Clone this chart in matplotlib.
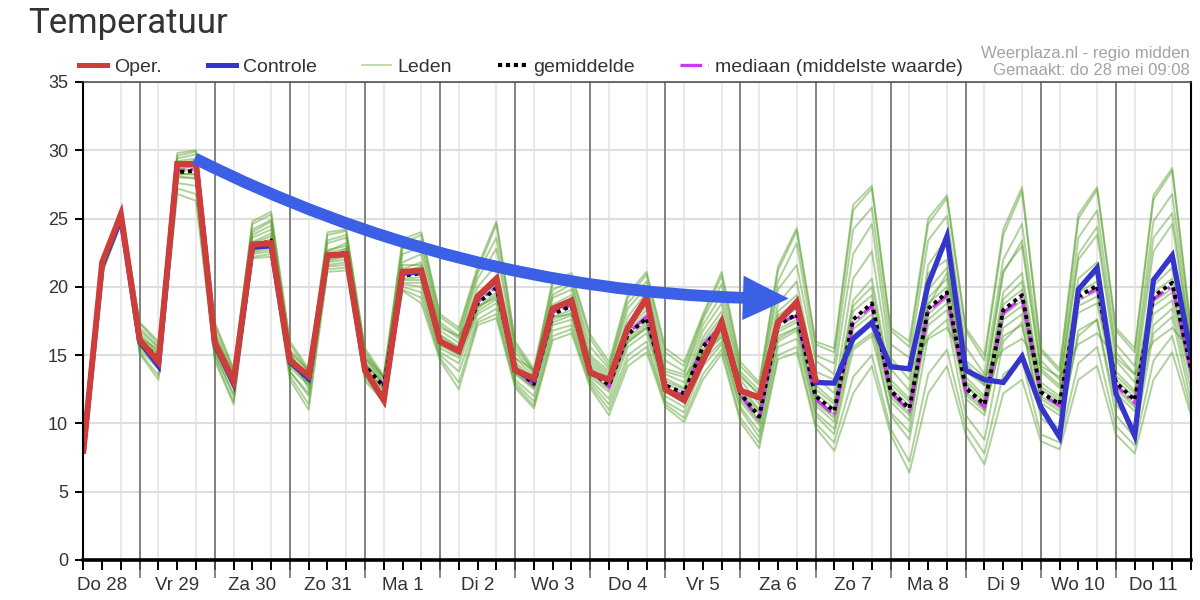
import numpy as np
import matplotlib
matplotlib.use("Agg")
import matplotlib.pyplot as plt
from matplotlib.lines import Line2D
from matplotlib.patches import FancyArrowPatch

# ---------------- data (6-hourly, first step = Do 28 06:00) ----------------
day_labels = ["Do 28", "Vr 29", "Za 30", "Zo 31", "Ma 1", "Di 2", "Wo 3", "Do 4",
              "Vr 5", "Za 6", "Zo 7", "Ma 8", "Di 9", "Wo 10", "Do 11"]

oper = [8.0, 21.8, 25.3, 16.1, 14.5, 29.0, 29.0, 15.9, 13.1, 23.1,
        23.2, 14.6, 13.5, 22.3, 22.4, 13.9, 11.7, 21.1, 21.2, 16.0,
        15.3, 19.3, 20.6, 13.9, 13.3, 18.4, 19.0, 13.7, 13.2, 17.0,
        19.2, 12.5, 11.7, 14.6, 17.4, 12.4, 11.9, 17.4, 18.9, 13.2]

controle = [8.0, 21.6, 25.0, 16.0, 14.2, 29.0, 29.0, 15.8, 12.9, 22.9,
            23.0, 14.5, 13.3, 22.3, 22.4, 13.9, 11.7, 21.0, 21.1, 16.0,
            15.3, 19.3, 20.5, 13.9, 13.2, 18.4, 19.0, 13.7, 13.2, 17.0,
            19.2, 12.5, 11.7, 14.6, 17.4, 12.4, 11.9, 17.4, 18.8, 13.0,
            12.95, 16.2, 17.4, 14.15, 14.0, 20.2, 23.7, 13.9, 13.2, 13.0,
            14.9, 11.2, 9.0, 19.8, 21.4, 12.2, 9.1, 20.5, 22.3, 15.0]

gemiddelde = [8.0, 21.5, 25.0, 16.0, 14.8, 28.4, 28.5, 15.7, 13.0, 22.9,
              23.4, 14.5, 13.2, 22.2, 22.5, 14.2, 12.7, 20.8, 21.0, 16.0,
              15.3, 18.8, 19.9, 14.0, 12.9, 18.0, 18.6, 13.9, 12.8, 16.5,
              17.7, 12.8, 12.2, 15.6, 17.1, 12.2, 10.5, 17.2, 18.0, 12.0,
              10.9, 17.6, 18.8, 12.4, 11.1, 18.4, 19.6, 12.6, 11.4, 18.3,
              19.4, 12.3, 11.4, 19.3, 20.1, 13.0, 11.7, 19.3, 20.3, 14.0]

mediaan = [8.0, 21.5, 25.1, 16.0, 14.7, 28.5, 28.6, 15.7, 13.0, 22.9,
           23.3, 14.5, 13.2, 22.3, 22.5, 14.2, 12.8, 20.9, 21.0, 16.0,
           15.3, 18.9, 20.0, 14.0, 12.8, 18.1, 18.7, 13.8, 12.7, 16.6,
           17.8, 12.7, 12.0, 15.7, 17.2, 12.1, 10.3, 17.3, 17.9, 11.8,
           10.6, 17.4, 18.6, 12.3, 10.9, 18.2, 19.4, 12.4, 11.2, 18.1,
           19.2, 12.2, 11.3, 19.1, 19.9, 12.8, 11.5, 19.1, 20.1, 13.8]

leden = [
    [8.3, 21.9, 25.8, 17.3, 15.8, 29.6, 29.9, 17.2, 13.9, 24.6,
     25.3, 15.8, 13.8, 23.8, 24.1, 15.3, 13.3, 23.2, 23.8, 17.8,
     16.8, 21.2, 24.6, 15.8, 13.8, 20.3, 20.8, 16.2, 14.2, 19.2,
     20.9, 15.2, 14.2, 17.8, 20.8, 14.2, 12.8, 21.2, 24.1, 15.8,
     15.2, 25.6, 27.2, 16.8, 15.6, 24.6, 26.5, 16.8, 14.6, 23.8,
     27.0, 15.3, 13.8, 25.0, 27.1, 16.8, 15.2, 26.4, 28.5, 16.8],
    [7.8, 21.0, 24.6, 15.1, 13.2, 26.8, 26.3, 14.6, 11.4, 22.1,
     22.2, 13.2, 11.0, 21.1, 21.2, 13.1, 11.6, 19.7, 18.8, 14.6,
     12.5, 17.2, 17.7, 12.6, 11.1, 16.1, 16.6, 12.6, 10.6, 14.2,
     15.2, 11.2, 10.1, 13.2, 15.1, 10.1, 8.2, 14.7, 15.2, 9.7,
     8.0, 12.2, 14.2, 9.2, 6.4, 12.2, 14.2, 9.2, 7.0, 12.2,
     13.2, 8.7, 8.1, 13.2, 14.2, 9.2, 7.8, 13.2, 15.2, 10.6],
    [8.1, 21.7, 25.3, 16.4, 15.1, 28.8, 29.0, 16.0, 13.3, 23.3,
     23.9, 14.9, 13.5, 22.7, 23.0, 14.5, 12.9, 21.3, 21.8, 16.5,
     15.6, 19.5, 20.8, 14.5, 13.2, 18.7, 19.4, 14.4, 13.2, 17.2,
     18.6, 13.3, 12.6, 16.3, 18.2, 12.8, 11.0, 18.2, 19.4, 12.8,
     11.6, 19.0, 20.6, 13.2, 11.8, 19.8, 21.4, 13.4, 12.0, 19.6,
     21.0, 13.0, 12.0, 20.6, 21.8, 13.8, 12.4, 20.6, 22.0, 14.8],
    [7.9, 21.3, 24.8, 15.7, 14.4, 28.0, 28.0, 15.3, 12.6, 22.6,
     23.0, 14.1, 12.8, 21.8, 22.0, 13.9, 12.4, 20.3, 20.3, 15.5,
     14.8, 18.2, 19.1, 13.6, 12.5, 17.4, 17.9, 13.4, 12.3, 15.9,
     17.0, 12.3, 11.7, 15.0, 16.3, 11.6, 9.9, 16.4, 17.0, 11.3,
     10.1, 16.5, 17.4, 11.6, 10.2, 17.2, 18.3, 11.8, 10.6, 17.0,
     18.0, 11.5, 10.6, 18.1, 18.8, 12.2, 10.9, 18.0, 19.0, 13.2],
    [8.2, 21.6, 25.5, 16.8, 15.5, 28.9, 29.3, 16.5, 13.6, 23.8,
     24.5, 15.3, 12.5, 22.0, 22.8, 14.8, 13.0, 22.4, 22.9, 17.2,
     16.2, 20.6, 22.8, 15.2, 13.6, 19.4, 20.2, 15.0, 13.8, 18.4,
     20.0, 14.0, 13.6, 17.2, 19.4, 13.6, 12.0, 19.8, 21.6, 14.6,
     13.6, 22.4, 24.6, 14.8, 13.2, 21.0, 22.0, 13.0, 11.0, 16.4,
     17.2, 10.8, 9.6, 16.4, 17.6, 11.4, 9.8, 17.2, 18.4, 12.4],
    [7.9, 21.2, 24.7, 15.4, 14.0, 27.6, 27.4, 15.0, 12.2, 22.4,
     22.6, 13.8, 12.0, 21.5, 21.6, 13.6, 12.0, 20.0, 19.6, 15.0,
     13.8, 17.6, 18.4, 13.0, 11.6, 16.8, 17.2, 13.0, 11.4, 15.0,
     16.0, 11.6, 10.8, 14.2, 15.8, 11.0, 9.0, 15.6, 16.2, 10.6,
     9.2, 15.4, 16.4, 10.8, 9.4, 18.6, 21.0, 13.8, 12.8, 21.0,
     23.4, 14.0, 12.8, 22.4, 24.4, 15.2, 13.6, 23.6, 25.4, 15.8],
    [8.0, 21.5, 25.1, 16.1, 14.9, 28.5, 28.6, 15.8, 13.1, 23.0,
     23.5, 14.6, 13.3, 22.3, 22.6, 14.3, 12.8, 20.9, 21.2, 16.2,
     15.4, 19.0, 20.1, 14.1, 13.0, 18.2, 18.8, 14.0, 12.9, 16.8,
     18.0, 12.9, 12.3, 15.8, 17.4, 12.3, 10.7, 17.6, 18.4, 12.2,
     11.1, 18.2, 19.4, 12.6, 11.3, 18.8, 20.0, 12.8, 11.6, 18.7,
     19.8, 12.5, 11.6, 19.6, 20.4, 13.2, 11.9, 19.6, 20.6, 14.2],
    [8.0, 21.4, 24.9, 15.9, 14.7, 28.2, 28.3, 15.6, 12.9, 22.8,
     23.2, 14.4, 13.0, 22.0, 22.3, 14.1, 12.5, 20.6, 20.7, 15.8,
     15.1, 18.5, 19.6, 13.8, 12.7, 17.8, 18.3, 13.7, 12.6, 16.3,
     17.4, 12.6, 12.0, 15.4, 16.8, 12.0, 10.2, 16.9, 17.6, 11.7,
     10.6, 17.2, 18.4, 12.1, 10.8, 18.0, 19.2, 12.3, 11.1, 17.9,
     19.0, 12.0, 11.1, 19.0, 19.7, 12.7, 11.4, 18.9, 19.9, 13.7],
    [8.1, 21.8, 25.6, 16.6, 15.2, 29.2, 29.4, 16.2, 13.4, 24.0,
     24.8, 15.0, 13.6, 23.2, 23.6, 14.8, 13.2, 21.8, 22.4, 16.8,
     15.9, 20.0, 21.6, 14.8, 13.4, 19.2, 19.8, 14.6, 13.4, 17.8,
     19.6, 13.6, 13.0, 16.8, 18.8, 13.2, 11.4, 18.8, 20.4, 13.4,
     12.2, 20.6, 22.6, 14.0, 12.4, 21.6, 23.6, 14.4, 12.8, 21.2,
     23.0, 13.8, 12.6, 22.0, 23.8, 14.6, 13.0, 22.6, 24.6, 15.6],
    [7.9, 21.3, 24.9, 15.6, 14.2, 28.1, 27.9, 15.2, 12.0, 22.5,
     22.8, 13.8, 12.2, 21.6, 21.8, 13.8, 12.2, 20.2, 20.0, 15.2,
     14.4, 18.0, 18.8, 13.2, 12.0, 17.2, 17.6, 13.2, 11.8, 15.6,
     16.6, 12.0, 11.2, 14.6, 16.0, 11.2, 9.4, 16.0, 16.8, 10.8,
     9.6, 16.0, 17.2, 10.6, 8.8, 16.4, 17.6, 10.6, 8.8, 16.0,
     17.4, 10.4, 9.4, 16.8, 17.6, 10.6, 9.0, 16.6, 17.8, 11.6],
    [8.2, 21.7, 25.4, 17.0, 15.6, 29.4, 29.7, 16.8, 13.7, 24.2,
     24.9, 15.4, 13.8, 23.4, 23.8, 15.1, 13.4, 22.8, 23.4, 17.4,
     16.4, 21.0, 23.6, 15.5, 13.8, 19.8, 20.4, 15.6, 14.0, 18.8,
     20.4, 14.6, 13.8, 17.6, 20.2, 13.8, 12.4, 20.4, 23.2, 15.0,
     14.4, 24.2, 25.8, 15.8, 14.8, 23.4, 25.2, 15.6, 13.6, 22.0,
     24.6, 14.6, 13.2, 23.6, 25.6, 15.8, 14.2, 24.8, 26.8, 16.2],
    [7.8, 21.1, 24.7, 15.2, 13.5, 27.2, 26.8, 14.8, 11.6, 22.2,
     22.4, 13.5, 11.4, 21.3, 21.4, 13.3, 11.8, 19.8, 19.2, 14.8,
     13.0, 17.4, 18.0, 12.8, 11.3, 16.4, 16.9, 12.8, 11.0, 14.6,
     15.6, 11.4, 10.4, 13.6, 15.4, 10.4, 8.6, 15.0, 15.6, 10.0,
     8.6, 13.4, 15.0, 9.6, 7.2, 13.6, 15.4, 9.8, 7.8, 13.6,
     14.6, 9.2, 8.6, 14.4, 15.6, 9.8, 8.4, 14.6, 16.4, 11.0],
    [8.0, 21.6, 25.2, 16.2, 15.0, 28.7, 28.8, 15.9, 13.2, 23.2,
     23.7, 14.7, 13.4, 22.5, 22.8, 14.4, 12.9, 21.1, 21.5, 16.4,
     15.5, 19.2, 20.4, 14.3, 13.1, 18.4, 19.1, 14.2, 13.0, 17.0,
     18.3, 13.1, 12.5, 16.0, 17.8, 12.5, 10.9, 17.9, 18.9, 12.5,
     11.4, 18.6, 20.0, 12.9, 11.6, 19.2, 20.6, 13.1, 11.8, 19.1,
     20.4, 12.7, 11.8, 20.0, 21.0, 13.5, 12.2, 20.1, 21.4, 14.5],
    [8.0, 21.4, 24.9, 15.8, 14.6, 28.3, 28.2, 15.5, 12.8, 22.7,
     23.1, 14.3, 12.9, 21.9, 22.2, 14.0, 12.6, 20.5, 20.5, 15.7,
     15.0, 18.4, 19.4, 13.7, 12.6, 17.6, 18.1, 13.6, 12.5, 16.1,
     17.2, 12.5, 11.9, 15.2, 16.6, 11.8, 10.1, 16.7, 17.4, 11.5,
     10.4, 16.9, 18.0, 11.9, 10.6, 17.6, 18.8, 12.1, 10.9, 17.6,
     18.6, 11.8, 10.9, 18.6, 19.3, 12.5, 11.2, 18.6, 19.6, 13.5],
    [8.1, 21.5, 25.0, 16.3, 15.4, 28.6, 28.9, 16.4, 13.5, 23.6,
     24.2, 15.2, 13.9, 22.6, 23.2, 14.9, 13.4, 21.6, 21.6, 17.0,
     16.4, 18.6, 19.2, 14.8, 13.9, 17.8, 18.0, 14.8, 13.6, 16.0,
     17.0, 13.8, 13.4, 15.2, 16.4, 13.4, 12.2, 16.2, 17.0, 13.8,
     13.2, 15.6, 16.6, 14.4, 13.8, 16.2, 17.0, 14.6, 13.4, 15.4,
     16.2, 14.2, 13.4, 15.8, 16.6, 14.8, 13.6, 16.0, 17.0, 15.4],
    [8.4, 22.0, 25.7, 17.4, 16.0, 29.8, 30.0, 17.4, 14.0, 24.8,
     25.5, 16.0, 14.0, 24.0, 24.2, 15.5, 13.5, 23.5, 24.0, 18.0,
     17.0, 21.5, 24.8, 16.0, 14.0, 20.5, 21.0, 16.5, 14.5, 19.5,
     21.1, 15.5, 14.5, 18.0, 21.1, 14.5, 13.0, 21.5, 24.3, 16.0,
     15.5, 26.0, 27.4, 17.0, 16.0, 25.0, 26.7, 17.0, 15.0, 24.2,
     27.3, 15.5, 14.0, 25.3, 27.3, 17.0, 15.5, 26.7, 28.7, 17.0],
]

# annotation arrow (data coordinates: days since Do 28 00:00, degrees)
arrow_start = (1.70, 29.5)
arrow_end = (9.68, 19.15)

# ---------------- styling ----------------
RED = "#cf3d3a"
BLUE = "#3535cc"
GREEN = "#4f9a22"
GREEN_LEG = "#a9d28f"
MAG = "#c83cf0"
ARROW = "#3b5fe5"
TXT = "#333333"

plt.rcParams["font.family"] = ["Liberation Sans", "DejaVu Sans"]

t = 0.25 + 0.25 * np.arange(len(gemiddelde))

fig = plt.figure(figsize=(12, 6), dpi=100)
fig.patch.set_facecolor("white")
ax = fig.add_axes([83.4 / 1200, 40 / 600, (1191 - 83.4) / 1200, 478 / 600])

for m in leden:
    ax.plot(t[:len(m)], m, color=GREEN, lw=1.4, alpha=0.45, zorder=3)

ax.plot(t[:len(mediaan)], mediaan, color=MAG, lw=2.4,
        linestyle=(0, (6, 1.6, 0.8, 1.6)), zorder=4)
ax.plot(t[:len(gemiddelde)], gemiddelde, color="black", lw=2.8,
        linestyle=(0, (1, 1)), zorder=5)
ax.plot(t[:len(controle)], controle, color=BLUE, lw=3.8, zorder=6,
        solid_joinstyle="miter")
ax.plot(t[:len(oper)], oper, color=RED, lw=4.3, zorder=7,
        solid_joinstyle="miter")

# axes ranges
ax.set_xlim(0.25, 14.96)
ax.set_ylim(0, 35)

# grid
ax.set_yticks(np.arange(0, 36, 5))
ax.set_xticks(np.arange(len(day_labels)) + 0.5)
ax.set_xticklabels(day_labels)
ax.set_xticks(t, minor=True)
ax.grid(True, which="major", axis="y", color="#dedede", lw=1.5)
ax.grid(True, which="minor", axis="x", color="#e3e3e3", lw=1.1)
ax.set_axisbelow(True)

day_bounds = np.arange(1, len(day_labels))
ax.vlines(day_bounds, -1.32, 35, color="#666666", lw=1.1, zorder=2,
          clip_on=False)

ax.tick_params(axis="y", length=6, width=1.4, color="black",
               labelsize=13, labelcolor=TXT, pad=5)
ax.tick_params(axis="x", which="both", length=7, width=1.4, color="black",
               labelsize=13.5, labelcolor=TXT, pad=5)

for side in ("left", "right"):
    ax.spines[side].set_linewidth(1.5)
    ax.spines[side].set_color("black")
ax.spines["bottom"].set_linewidth(2.6)
ax.spines["bottom"].set_color("black")
ax.spines["top"].set_linewidth(1.1)
ax.spines["top"].set_color("#444444")
for s in ax.spines.values():
    s.set_zorder(8)

# arrow annotation
arr = FancyArrowPatch(arrow_start, arrow_end, connectionstyle="arc3,rad=0.12",
                      arrowstyle="simple,head_length=3.3,head_width=3.2,tail_width=0.85",
                      mutation_scale=10, color=ARROW, lw=0, zorder=9,
                      clip_on=False)
ax.add_patch(arr)

# legend
handles = [
    Line2D([], [], color=RED, lw=3.6),
    Line2D([], [], color=BLUE, lw=3.6),
    Line2D([], [], color=GREEN_LEG, lw=1.1),
    Line2D([], [], color="black", lw=3.0, linestyle=(0, (1, 0.9))),
    Line2D([], [], color=MAG, lw=2.4, linestyle=(0, (6.5, 1.8, 0.8, 3))),
]
labels = ["Oper.", "Controle", "Leden", "gemiddelde", "mediaan (middelste waarde)"]
leg = ax.legend(handles, labels, loc="lower left", bbox_to_anchor=(-0.004, 1.012),
                ncol=5, frameon=False, fontsize=14, borderpad=0,
                borderaxespad=0, handlelength=1.45, handletextpad=0.35,
                columnspacing=2.36)
for txt in leg.get_texts():
    txt.set_color(TXT)

# titles / credits
fig.text(28 / 1200, 1 - 33 / 600, "Temperatuur", fontsize=25, color=TXT,
         family=["Roboto", "DejaVu Sans"], va="baseline", ha="left")
fig.text(1190 / 1200, 1 - 58 / 600, "Weerplaza.nl - regio midden", fontsize=12,
         color="#a3a3a3", ha="right", va="baseline")
fig.text(1190 / 1200, 1 - 75 / 600, "Gemaakt: do 28 mei 09:08", fontsize=12,
         color="#a3a3a3", ha="right", va="baseline")

fig.savefig("out.png", dpi=100, facecolor="white")
